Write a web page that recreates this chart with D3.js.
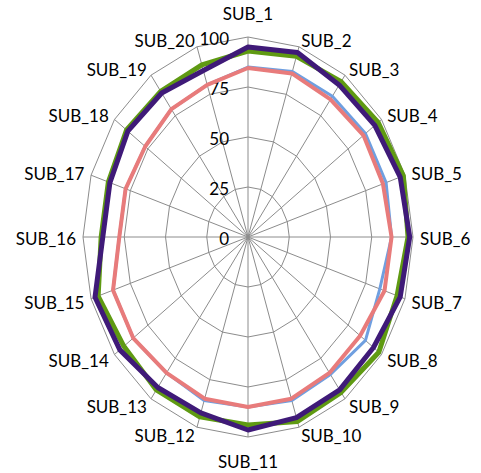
<!DOCTYPE html>
<html>
<head>
<meta charset="utf-8">
<script src="https://cdn.jsdelivr.net/npm/d3@7"></script>
<style>
  html, body { margin: 0; padding: 0; background: #fff; }
  svg { display: block; }
  text { font-family: Lato, "Open Sans", sans-serif; fill: #000; }
</style>
</head>
<body>
<svg id="chart" width="481" height="473"></svg>
<script>
const categories = ["SUB_1","SUB_2","SUB_3","SUB_4","SUB_5","SUB_6","SUB_7","SUB_8","SUB_9","SUB_10",
  "SUB_11","SUB_12","SUB_13","SUB_14","SUB_15","SUB_16","SUB_17","SUB_18","SUB_19","SUB_20"];
const blueValues   = [85, 87, 87, 88, 88, 87, 84, 88, 85, 86, 85, 86, 84, 86, 86, 78, 78, 77, 79, 80];
const pinkValues   = [84.5, 86, 85, 86.5, 86, 87, 87, 84, 84, 85, 85, 85, 84, 86, 86, 78, 78, 77, 79, 80];
const greenValues  = [93, 95, 96, 97.5, 99, 97, 95, 98, 96, 97, 94, 94.5, 94.5, 93, 95.5, 89, 89, 91, 90, 90.5];
const purpleValues = [95, 97, 94, 95, 97, 98, 97, 94, 94.5, 95, 96.5, 92.5, 93, 96, 97.5, 88, 88, 90, 89, 87.5];
const tickValues = [0, 25, 50, 75, 100];

const series = [
  { values: blueValues,   color: "#6f9fe0", width: 3 },
  { values: pinkValues,   color: "#e87b7b", width: 4 },
  { values: greenValues,  color: "#5f9a12", width: 5 },
  { values: purpleValues, color: "#3f1a78", width: 5 }
];

const svg = d3.select("#chart");
const cx = 248, cy = 237;
const rx = d3.scaleLinear().domain([0, 100]).range([0, 165]);
const ry = d3.scaleLinear().domain([0, 100]).range([0, 200]);
const angle = d3.scaleLinear().domain([0, categories.length]).range([0, 2 * Math.PI]);

const px = (i, v) => cx + rx(v) * Math.sin(angle(i));
const py = (i, v) => cy - ry(v) * Math.cos(angle(i));

const g = svg.append("g");

// rings
tickValues.filter(t => t > 0).forEach(t => {
  const pts = categories.map((c, i) => [px(i, t), py(i, t)]);
  g.append("path")
    .attr("d", d3.line().curve(d3.curveLinearClosed)(pts))
    .attr("fill", "none")
    .attr("stroke", "#8c8c8c")
    .attr("stroke-width", 1);
});

// spokes
g.selectAll("line.spoke").data(categories).enter().append("line")
  .attr("class", "spoke")
  .attr("x1", cx).attr("y1", cy)
  .attr("x2", (d, i) => px(i, 100))
  .attr("y2", (d, i) => py(i, 100))
  .attr("stroke", "#8c8c8c")
  .attr("stroke-width", 1);

// tick labels
g.selectAll("text.tick").data(tickValues).enter().append("text")
  .attr("class", "tick")
  .attr("x", cx - 19)
  .attr("y", d => cy - ry(d) + 1)
  .attr("text-anchor", "end")
  .attr("dominant-baseline", "central")
  .style("font-size", "17px")
  .text(d => d);

// category labels
g.selectAll("text.cat").data(categories).enter().append("text")
  .attr("class", "cat")
  .attr("x", (d, i) => {
    const s = Math.sin(angle(i));
    return px(i, 100) + 7 * s;
  })
  .attr("y", (d, i) => {
    const c = Math.cos(angle(i));
    if (Math.abs(Math.sin(angle(i))) < 0.01) return py(i, 100) - 24 * c;
    return py(i, 100) - 8 * c + 1;
  })
  .attr("text-anchor", (d, i) => {
    const s = Math.sin(angle(i));
    return Math.abs(s) < 0.01 ? "middle" : (s > 0 ? "start" : "end");
  })
  .attr("dominant-baseline", "central")
  .style("font-size", "17px")
  .text(d => d);

// series
series.forEach(s => {
  const pts = s.values.map((v, i) => [px(i, v), py(i, v)]);
  g.append("path")
    .attr("d", d3.line().curve(d3.curveLinearClosed)(pts))
    .attr("fill", "none")
    .attr("stroke", s.color)
    .attr("stroke-width", s.width)
    .attr("stroke-linejoin", "round");
});
</script>
</body>
</html>
